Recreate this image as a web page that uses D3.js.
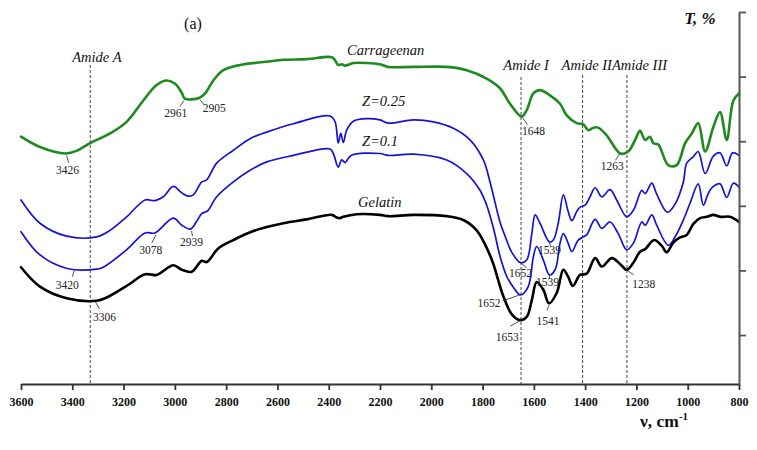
<!DOCTYPE html>
<html>
<head>
<meta charset="utf-8">
<script src="https://cdn.jsdelivr.net/npm/d3@7"></script>
<style>
  html, body { margin: 0; padding: 0; background: #fff; }
  svg { display: block; }
  text { font-family: "Liberation Serif", "Times New Roman", serif; }
</style>
</head>
<body>
<svg id="chart" width="757" height="450"></svg>
<script>
// ---------------- data ----------------
const xTicks = [3600, 3400, 3200, 3000, 2800, 2600, 2400, 2200, 2000, 1800, 1600, 1400, 1200, 1000, 800];
const yTicks = [0, 10, 20, 30, 40, 50];

const seriesNames = ["Carrageenan", "Z=0.25", "Z=0.1", "Gelatin"];

const carrWn = [3600,3526,3426,3383,3331,3253,3188,3123,3071,3032,2999,2973,2961,2905,2882,2850,2811,2746,2642,2577,2486,2388,2375,2363,2349,2336,2304,2252,2200,2168,2071,1940,1862,1784,1732,1693,1648,1628,1602,1576,1537,1498,1472,1433,1407,1388,1368,1349,1316,1263,1232,1205,1186,1166,1147,1134,1115,1076,1043,1010,984,959,932,900,874,848,822,800];
const carrT  = [30.7,29.1,28.1,28.5,29.7,31.2,33.0,36.3,38.7,39.4,38.9,37.5,36.6,36.7,37.4,39.4,41.0,41.8,42.3,42.6,42.7,43.0,42.5,41.8,41.9,41.7,42.1,42.1,41.9,41.5,41.5,41.5,41.0,39.7,38.2,35.8,33.8,34.8,37.4,37.9,37.1,35.8,34.0,32.8,32.6,31.7,32.1,32.1,30.9,28.1,28.4,30.2,31.6,30.2,30.7,29.7,29.5,26.3,26.3,29.7,31.2,32.8,28.4,32.2,34.5,30.2,36.3,37.4];

const z25Wn = [3600,3526,3422,3305,3253,3188,3116,3077,3045,3006,2973,2949,2928,2895,2876,2837,2772,2707,2642,2538,2395,2375,2363,2353,2343,2330,2304,2252,2200,2168,2070,1992,1914,1849,1797,1771,1732,1712,1686,1652,1628,1608,1595,1576,1539,1524,1505,1485,1466,1452,1433,1420,1400,1381,1361,1335,1303,1277,1238,1212,1179,1166,1140,1121,1079,1049,1017,1004,978,959,932,900,874,848,825,800];
const z25T  = [20.9,17.3,15.3,15.2,16.2,18.3,20.9,20.8,21.4,23.0,22.0,21.5,21.7,23.7,24.0,26.6,28.6,30.4,31.4,32.7,33.9,33.0,29.7,31.2,29.8,31.7,33.1,33.5,33.3,32.8,33.3,33.0,32.0,30.2,27.1,23.7,17.5,15.3,12.8,11.2,11.6,15.7,18.6,17.3,14.4,14.7,17.3,21.7,19.1,17.7,19.1,19.8,20.1,21.4,22.8,21.4,22.5,20.9,18.3,19.3,22.4,21.9,23.5,21.8,19.0,20.3,23.7,26.6,27.6,28.4,25.0,27.7,28.2,26.2,28.2,27.8];

const z10Wn = [3600,3526,3420,3305,3279,3188,3116,3078,3006,2973,2939,2915,2895,2873,2837,2772,2707,2642,2538,2395,2382,2363,2349,2336,2313,2200,2168,2070,1940,1862,1810,1784,1758,1732,1706,1680,1652,1622,1602,1589,1563,1539,1517,1498,1485,1466,1452,1427,1407,1394,1361,1335,1303,1271,1238,1212,1179,1166,1140,1121,1076,1049,1017,991,959,939,920,900,874,848,822,800];
const z10T  = [16.0,12.4,10.3,10.2,10.5,13.2,15.8,15.8,18.1,17.0,16.4,17.6,18.8,19.2,21.4,23.7,25.5,26.8,27.8,28.8,28.1,26.0,27.1,26.7,27.8,28.1,27.8,28.0,27.1,25.0,22.4,20.1,16.6,12.2,9.1,7.4,6.2,7.5,12.1,13.7,11.6,9.3,10.1,14.2,15.7,14.2,12.9,14.7,15.2,15.5,17.9,16.5,17.5,15.7,13.2,14.2,17.5,17.0,18.6,17.0,13.9,15.2,17.8,20.4,23.4,20.1,21.9,23.0,23.4,21.3,23.5,22.9];

const gelWn = [3600,3526,3422,3306,3266,3188,3116,3071,3006,2973,2934,2895,2876,2831,2772,2694,2577,2486,2388,2369,2356,2343,2291,2200,2168,2070,1940,1875,1823,1784,1758,1739,1719,1686,1653,1628,1608,1589,1563,1541,1511,1485,1466,1448,1420,1394,1361,1335,1296,1264,1238,1212,1186,1166,1131,1101,1082,1056,1030,1004,978,952,926,900,874,835,800];
const gelT  = [10.5,7.5,5.7,5.3,5.8,7.6,9.4,9.3,10.8,10.1,9.8,11.5,11.3,13.4,14.7,16.1,17.3,17.9,18.6,18.2,18.1,18.3,18.7,18.6,18.4,18.6,18.4,17.8,16.2,13.5,11.0,8.5,6.0,3.2,2.3,2.8,5.4,8.2,7.0,4.9,6.5,10.1,9.0,7.6,9.3,9.5,11.9,10.6,11.9,11.0,10.1,11.2,12.9,13.3,14.7,13.8,12.8,14.3,15.1,15.5,17.2,18.1,18.3,18.6,18.3,18.3,17.5];

const amideWn    = [3330, 1650, 1410, 1237];
const amideNames = ["Amide A", "Amide I", "Amide II", "Amide III"];

const annoText   = ["3426","2961","2905","1648","1263","3420","3078","2939","3306","1652","1539","1652","1539","1653","1541","1238"];
const annoSeries = [0,0,0,0,0,2,2,2,3,1,1,2,2,3,3,3];
const annoWn     = [3426,2961,2905,1648,1263,3400,3078,2939,3306,1652,1539,1652,1539,1653,1541,1238];

// ---------------- layout ----------------
const svg = d3.select("#chart");
const x = d3.scaleLinear().domain([3600, 800]).range([21, 739]);
const y = d3.scaleLinear().domain([-7.58, 50]).range([384, 12]);

const series = [
  {wn: carrWn, t: carrT, color: "#1f8a1f", width: 2.6},
  {wn: z25Wn,  t: z25T,  color: "#1414d2", width: 1.7},
  {wn: z10Wn,  t: z10T,  color: "#1414d2", width: 1.7},
  {wn: gelWn,  t: gelT,  color: "#000000", width: 2.6}
];

function valueAt(s, w) {
  for (let i = 0; i < s.wn.length - 1; i++) {
    const a = s.wn[i], b = s.wn[i + 1];
    if (w <= a && w >= b) {
      const f = (a - w) / (a - b);
      return s.t[i] + f * (s.t[i + 1] - s.t[i]);
    }
  }
  return s.t[s.t.length - 1];
}

// Amide dashed lines
const amideTop = [65, 77, 75, 75];
const amideLabelDx = [-18, -17.7, -21, -15];
const amideLabelY = [62, 70, 70, 70];
amideWn.forEach((w, i) => {
  svg.append("line")
    .attr("x1", x(w)).attr("x2", x(w))
    .attr("y1", amideTop[i]).attr("y2", 384)
    .attr("stroke", "#333").attr("stroke-width", 0.9)
    .attr("stroke-dasharray", "3,2");
  svg.append("text")
    .attr("x", x(w) + amideLabelDx[i]).attr("y", amideLabelY[i])
    .attr("font-size", 14.5).attr("font-style", "italic").attr("fill", "#111")
    .text(amideNames[i]);
});

// Curves
const line = d3.line()
  .x(d => x(d[0]))
  .y(d => y(d[1]))
  .curve(d3.curveCatmullRom.alpha(0.5));

series.forEach(s => {
  const pts = s.wn.map((w, i) => [w, s.t[i]]);
  svg.append("path")
    .attr("d", line(pts))
    .attr("fill", "none")
    .attr("stroke", s.color)
    .attr("stroke-width", s.width)
    .attr("stroke-linejoin", "round")
    .attr("stroke-linecap", "round");
});

// Series labels
const nameX = [347, 362, 362, 358];
const nameY = [55, 106, 146, 207];
seriesNames.forEach((n, i) => {
  svg.append("text")
    .attr("x", nameX[i]).attr("y", nameY[i])
    .attr("font-size", 14.5).attr("font-style", "italic").attr("fill", "#111")
    .text(n);
});

// Peak annotations: [leaderStart dx,dy, leaderEnd dx,dy, text dx,dy, anchor]
const annoLayout = [
  [1,2,3,9,2,21,"middle"],
  [-1,2,-5,8,-9,18,"middle"],
  [1,2,5,7,15,14,"middle"],
  [1,1,6,8,12,18,"middle"],
  [-1,1,-5,7,-8,17,"middle"],
  [2,2,0,8,-5,20,"middle"],
  [1,2,-3,10,-4,21,"middle"],
  [1,2,2,7,1,17,"middle"],
  [-1,1,3,8,8,20,"middle"],
  [1,1,6,5,0,14,"middle"],
  [0,1,1,4,0,12,"middle"],
  [-1,0,-18,6,-20,12,"end"],
  [0,1,0,4,-2,11.5,"middle"],
  [-1,1,-10,6,-13,20.5,"middle"],
  [0,2,-2,7,-1,21.7,"middle"],
  [1,1,7,5,17,18,"middle"]
];
annoText.forEach((t, i) => {
  const s = series[annoSeries[i]];
  const px = x(annoWn[i]), py = y(valueAt(s, annoWn[i]));
  const L = annoLayout[i];
  svg.append("line")
    .attr("x1", px + L[0]).attr("y1", py + L[1])
    .attr("x2", px + L[2]).attr("y2", py + L[3])
    .attr("stroke", "#222").attr("stroke-width", 0.8);
  svg.append("text")
    .attr("x", px + L[4]).attr("y", py + L[5])
    .attr("text-anchor", L[6])
    .attr("font-size", 11.5).attr("fill", "#222")
    .text(t);
});

// Bottom axis
const xAxis = d3.axisBottom(x).tickValues(xTicks).tickFormat(d3.format("d"))
  .tickSize(6).tickSizeOuter(0).tickPadding(7);
const gx = svg.append("g").attr("transform", "translate(0,384)").call(xAxis);
gx.select(".domain").attr("stroke", "#333").attr("stroke-width", 2);
gx.selectAll(".tick line").attr("stroke", "#333").attr("stroke-width", 1.8);
gx.selectAll(".tick text").attr("font-family", "'Liberation Serif', 'Times New Roman', serif")
  .attr("font-size", 12).attr("font-weight", "bold").attr("fill", "#111");

// Right axis
const yAxis = d3.axisRight(y).tickValues(yTicks).tickFormat("").tickSize(7).tickSizeOuter(0);
const gy = svg.append("g").attr("transform", "translate(739,0)").call(yAxis);
gy.select(".domain").attr("stroke", "#555").attr("stroke-width", 2);
gy.selectAll(".tick line").attr("stroke", "#555").attr("stroke-width", 1.8);

// Titles
svg.append("text").attr("x", 193).attr("y", 29).attr("text-anchor", "middle")
  .attr("font-size", 16).attr("fill", "#111").text("(a)");
svg.append("text").attr("x", 700).attr("y", 24).attr("text-anchor", "middle")
  .attr("font-size", 17).attr("font-weight", "bold").attr("font-style", "italic").attr("fill", "#111")
  .text("T, %");
const xt = svg.append("text").attr("x", 640).attr("y", 427)
  .attr("font-size", 17.5).attr("font-weight", "bold").attr("fill", "#111");
xt.append("tspan").text("ν, cm");
xt.append("tspan").attr("font-size", 11).attr("dy", -7).text("-1");
</script>
</body>
</html>
